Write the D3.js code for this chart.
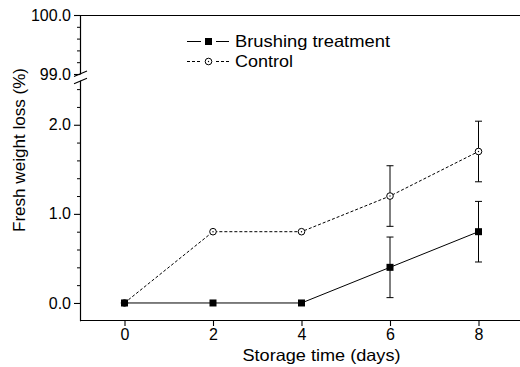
<!DOCTYPE html>
<html>
<head>
<meta charset="utf-8">
<script src="https://cdn.jsdelivr.net/npm/d3@7/dist/d3.min.js"></script>
<style>
  html, body { margin: 0; padding: 0; background: #fff; }
  svg { display: block; }
  text { font-family: "Liberation Sans", Arial, Helvetica, sans-serif; fill: #000; }
</style>
</head>
<body>
<svg id="chart" width="520" height="367"></svg>
<script>
// ---- data ----
const days = [0, 2, 4, 6, 8];
const brushing = [0.00, 0.00, 0.00, 0.40, 0.80];
const brushingErr = [0, 0, 0, 0.34, 0.34];
const control = [0.00, 0.80, 0.80, 1.20, 1.70];
const controlErr = [0, 0, 0, 0.34, 0.34];
const xTicks = [0, 2, 4, 6, 8];
const yTicksLower = [0, 1, 2];
const yMinorLower = [0.2, 0.4, 0.6, 0.8, 1.2, 1.4, 1.6, 1.8, 2.2, 2.4];
const yTicksUpper = [99, 100];
const yMinorUpper = [99.2, 99.4, 99.6, 99.8];
const seriesNames = ["Brushing treatment", "Control"];
const xTitle = "Storage time (days)";
const yTitle = "Fresh weight loss (%)";

const svg = d3.select("#chart");

// ---- scales ----
const x = d3.scaleLinear().domain([-1, 9]).range([80.25, 522.75]);
const yLow = d3.scaleLinear().domain([-0.2, 2.5]).range([320.8, 80.2]);
const yUp = d3.scaleLinear().domain([99, 100]).range([74, 15]);

const fmt = d3.format(".1f");
const axisFont = "16px";

// ---- axes ----
function styleAxis(g) {
  g.select(".domain").attr("stroke", "#000").attr("stroke-width", 1.2);
  g.selectAll(".tick line").attr("stroke", "#000").attr("stroke-width", 1.1);
  g.selectAll(".tick text").style("font-size", axisFont).attr("fill", "#000");
}

// bottom axis
const gx = svg.append("g").attr("transform", "translate(0,320)")
  .call(d3.axisBottom(x).tickValues(xTicks).tickSize(6).tickSizeOuter(0).tickPadding(3)
    .tickFormat(d3.format("d")));
styleAxis(gx);
gx.select(".domain").attr("d", `M${x.range()[0]},0.5H${x.range()[1]}`);

// top frame line
svg.append("line").attr("x1", 80).attr("x2", x.range()[1])
  .attr("y1", 15.5).attr("y2", 15.5).attr("stroke", "#000").attr("stroke-width", 1.2);

// left lower axis
const gyl = svg.append("g").attr("transform", "translate(80,0)")
  .call(d3.axisLeft(yLow).tickValues(yTicksLower).tickSize(6).tickSizeOuter(0).tickPadding(3).tickFormat(fmt));
styleAxis(gyl);
svg.append("g").attr("transform", "translate(80,0)")
  .call(d3.axisLeft(yLow).tickValues(yMinorLower).tickSize(3).tickSizeOuter(0).tickFormat(""))
  .call(g => { g.select(".domain").remove(); g.selectAll(".tick line").attr("stroke", "#000"); });

// left upper axis
const gyu = svg.append("g").attr("transform", "translate(80,0)")
  .call(d3.axisLeft(yUp).tickValues(yTicksUpper).tickSize(6).tickSizeOuter(0).tickPadding(3).tickFormat(fmt));
styleAxis(gyu);
svg.append("g").attr("transform", "translate(80,0)")
  .call(d3.axisLeft(yUp).tickValues(yMinorUpper).tickSize(3).tickSizeOuter(0).tickFormat(""))
  .call(g => { g.select(".domain").remove(); g.selectAll(".tick line").attr("stroke", "#000"); });

// break marks
const brk = svg.append("g").attr("stroke", "#000").attr("stroke-width", 1.1);
[yUp(99) - 0.5, yLow(2.5) + 0.5].forEach(yy => {
  brk.append("line").attr("x1", 74).attr("x2", 87).attr("y1", yy + 3).attr("y2", yy - 2.5);
});

// ---- series ----
const plot = svg.append("g");

function errorBars(vals, errs) {
  days.forEach((d, i) => {
    if (!errs[i]) return;
    const cx = x(d);
    const y1 = yLow(vals[i] + errs[i]), y2 = yLow(vals[i] - errs[i]);
    plot.append("line").attr("x1", cx).attr("x2", cx).attr("y1", y1).attr("y2", y2)
      .attr("stroke", "#000").attr("stroke-width", 1);
    [y1, y2].forEach(yy => plot.append("line").attr("x1", cx - 3.5).attr("x2", cx + 3.5)
      .attr("y1", yy).attr("y2", yy).attr("stroke", "#000").attr("stroke-width", 1));
  });
}
errorBars(brushing, brushingErr);
errorBars(control, controlErr);

const line = d3.line().x((d, i) => x(days[i])).y(d => yLow(d));

plot.append("path").datum(control).attr("d", line)
  .attr("fill", "none").attr("stroke", "#000").attr("stroke-width", 1)
  .attr("stroke-dasharray", "3,2");
plot.append("path").datum(brushing).attr("d", line)
  .attr("fill", "none").attr("stroke", "#000").attr("stroke-width", 1);

// markers
function square(g, cx, cy) {
  g.append("rect").attr("x", cx - 3.5).attr("y", cy - 3.5).attr("width", 7).attr("height", 7)
    .attr("fill", "#000");
}
function circle(g, cx, cy) {
  g.append("circle").attr("cx", cx).attr("cy", cy).attr("r", 3.3)
    .attr("fill", "#fff").attr("stroke", "#000").attr("stroke-width", 1);
  g.append("circle").attr("cx", cx).attr("cy", cy).attr("r", 0.7).attr("fill", "#000");
}
control.forEach((v, i) => circle(plot, x(days[i]), yLow(v)));
brushing.forEach((v, i) => square(plot, x(days[i]), yLow(v)));

// ---- legend ----
const leg = svg.append("g");
const rows = [{y: 41.5, name: seriesNames[0], dash: null, mk: square},
              {y: 61.5, name: seriesNames[1], dash: "3,2", mk: circle}];
rows.forEach(r => {
  [[187, 201], [216, 229]].forEach(([a, b]) => {
    leg.append("line").attr("x1", a).attr("x2", b).attr("y1", r.y).attr("y2", r.y)
      .attr("stroke", "#000").attr("stroke-width", 1)
      .attr("stroke-dasharray", r.dash);
  });
  r.mk(leg, 208.5, r.y);
});
leg.append("text").attr("x", 235).attr("y", 46.5).style("font-size", "16.5px")
  .attr("textLength", 155).attr("lengthAdjust", "spacingAndGlyphs").text(seriesNames[0]);
leg.append("text").attr("x", 235).attr("y", 66.5).style("font-size", "16.5px")
  .attr("textLength", 58).attr("lengthAdjust", "spacingAndGlyphs").text(seriesNames[1]);

// ---- titles ----
svg.append("text").attr("x", 321.5).attr("y", 361).attr("text-anchor", "middle")
  .style("font-size", "16.5px").attr("textLength", 158).attr("lengthAdjust", "spacingAndGlyphs")
  .text(xTitle);
svg.append("text").attr("transform", "translate(24.5,150) rotate(-90)").attr("text-anchor", "middle")
  .style("font-size", "16.5px").attr("textLength", 164).attr("lengthAdjust", "spacingAndGlyphs")
  .text(yTitle);
</script>
</body>
</html>
